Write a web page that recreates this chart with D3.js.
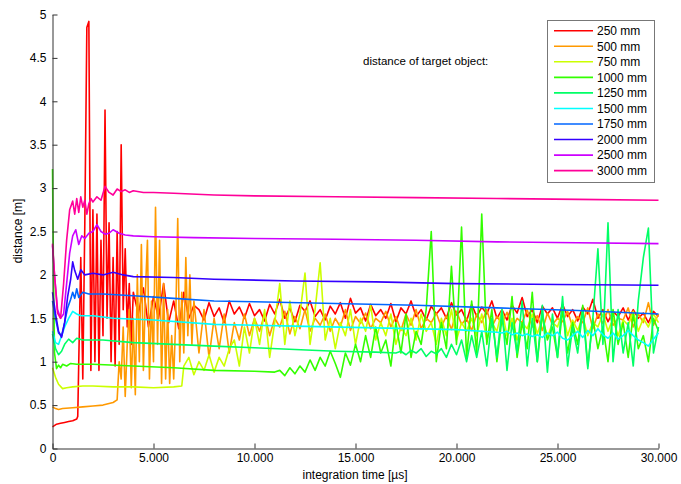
<!DOCTYPE html>
<html>
<head>
<meta charset="utf-8">
<script src="https://d3js.org/d3.v7.min.js"></script>
<style>
  body { margin: 0; background: #fff; }
  svg text { font-family: "Liberation Sans", Arial, Helvetica, sans-serif; fill: #000; }
</style>
</head>
<body>
<svg id="chart" width="681" height="484"></svg>
<script>
// ---- data (distance in m, time in µs) ----
const labels = ["250 mm", "500 mm", "750 mm", "1000 mm", "1250 mm", "1500 mm", "1750 mm", "2000 mm", "2500 mm", "3000 mm"];
const colors = ["#ff0000", "#ff9900", "#ccff00", "#33ff00", "#00ff66", "#00ffff", "#0066ff", "#3300ff", "#cc00ff", "#ff0099"];
const xTicks = [0, 5000, 10000, 15000, 20000, 25000, 30000];
const yTicks = [0, 0.5, 1, 1.5, 2, 2.5, 3, 3.5, 4, 4.5, 5];
const tailStep = 250;

// 250 mm
const t250 = [0, 200, 400, 600, 800, 1000, 1200, 1250,
  1300, 1400, 1500, 1600, 1700, 1800, 1900, 2000, 2100, 2200, 2300, 2400, 2500, 2600, 2700, 2800,
  2900, 3000, 3100, 3200, 3300, 3400, 3500, 3600, 3700, 3800, 3900, 4000];
const v250 = [0.25, 0.28, 0.29, 0.3, 0.31, 0.32, 0.34, 0.37,
  1.0, 2.2, 0.8, 2.6, 4.85, 4.92, 0.9, 2.75, 1.0, 2.7, 0.9, 2.4, 1.3, 3.9, 1.5, 2.6,
  1.0, 2.2, 0.95, 2.5, 1.2, 3.5, 1.6, 2.3, 1.4, 1.9, 1.2, 1.8];
const tail250Start = 4250;
const tail250 = [1.55, 1.85, 1.4, 1.75, 1.5, 1.9, 1.45, 1.7, 1.38, 1.8, 1.5, 1.65,
  1.6, 1.48, 1.68, 1.52, 1.62, 1.45, 1.7, 1.55, 1.63, 1.5, 1.67, 1.53,
  1.6, 1.47, 1.66, 1.55, 1.72, 1.5, 1.62, 1.46, 1.65, 1.58, 1.7, 1.52,
  1.6, 1.48, 1.64, 1.55, 1.68, 1.5, 1.73, 1.56, 1.62, 1.47, 1.66, 1.53,
  1.6, 1.5, 1.67, 1.46, 1.62, 1.55, 1.7, 1.52, 1.6, 1.48, 1.64, 1.55,
  1.62, 1.5, 1.68, 1.54, 1.6, 1.47, 1.66, 1.52, 1.63, 1.55, 1.7, 1.5,
  1.6, 1.48, 1.65, 1.56, 1.74, 1.52, 1.6, 1.45, 1.64, 1.55, 1.62, 1.5,
  1.66, 1.52, 1.6, 1.47, 1.63, 1.55, 1.72, 1.5, 1.6, 1.46, 1.58, 1.52,
  1.62, 1.48, 1.6, 1.5, 1.56, 1.45, 1.58, 1.52];

// 500 mm
const t500 = [0, 150, 300, 500, 1000, 1500, 2000, 2500, 3000, 3200,
  3300, 3400, 3500, 3600, 3700, 3800, 3900, 4000, 4100, 4200, 4300, 4400, 4500, 4600, 4700,
  4800, 4900, 5000, 5100, 5200, 5300, 5400, 5500, 5600, 5700, 5800, 5900, 6000, 6100, 6200,
  6300, 6400, 6500, 6600, 6700, 6800, 6900, 7000];
const v500 = [0.48, 0.46, 0.45, 0.46, 0.47, 0.48, 0.49, 0.5, 0.53, 0.56,
  1.0, 0.8, 1.4, 0.6, 1.2, 1.6, 0.7, 1.5, 0.62, 2.0, 1.0, 2.35, 0.9, 1.8, 2.4,
  0.8, 1.7, 1.0, 2.78, 1.2, 2.4, 0.75, 1.9, 0.8, 1.6, 0.75, 1.3, 0.8, 1.5, 2.65,
  1.0, 1.8, 1.1, 2.2, 1.3, 2.0, 1.2, 1.7];
const tail500Start = 7250;
const tail500 = [1.1, 1.6, 1.05, 1.5, 1.15, 1.55, 1.1, 1.45, 1.25, 1.55, 1.3, 1.5,
  1.35, 1.55, 1.3, 1.5, 1.4, 1.58, 1.32, 1.52, 1.38, 1.6, 1.35, 1.5,
  1.42, 1.55, 1.35, 1.5, 1.4, 1.6, 1.36, 1.52, 1.44, 1.56, 1.38, 1.5,
  1.45, 1.58, 1.4, 1.52, 1.36, 1.55, 1.42, 1.6, 1.38, 1.5, 1.45, 1.56,
  1.4, 1.53, 1.37, 1.58, 1.43, 1.5, 1.36, 1.55, 1.45, 1.6, 1.4, 1.52,
  1.44, 1.57, 1.38, 1.5, 1.45, 1.6, 1.4, 1.53, 1.36, 1.56, 1.43, 1.5,
  1.46, 1.58, 1.4, 1.52, 1.45, 1.62, 1.38, 1.55, 1.44, 1.6, 1.42, 1.5,
  1.48, 1.62, 1.4, 1.55, 1.45, 1.68, 1.42, 1.55];

// 750 mm
const t750 = [0, 150, 300, 500, 700, 1000, 1500, 2000, 3000, 4000, 5000, 6000, 6400];
const v750 = [0.93, 0.82, 0.74, 0.69, 0.7, 0.71, 0.72, 0.72, 0.71, 0.71, 0.7, 0.71, 0.72];
const tail750Start = 6500;
const tail750 = [0.95, 1.05, 0.85, 1.0, 0.9, 1.08, 0.88, 1.05, 0.95, 1.15,
  1.25, 0.95, 1.4, 1.1, 1.5, 1.2, 1.6, 1.05, 1.45, 1.9, 1.2, 1.7,
  1.3, 1.55, 2.02, 1.2, 1.6, 2.14, 1.25, 1.5, 1.15, 1.45, 1.3, 1.6,
  1.2, 1.5, 1.35, 1.65, 1.25, 1.45, 1.3, 1.55, 1.2, 1.4, 1.3, 1.5,
  1.25, 1.55, 1.35, 1.45, 1.2, 1.5, 1.3, 1.6, 1.25, 1.45, 1.35, 1.5,
  1.3, 1.55, 1.25, 1.45, 1.35, 1.6, 1.3, 1.5, 1.25, 1.45, 1.38, 1.55,
  1.32, 1.5, 1.28, 1.45, 1.4, 1.58, 1.3, 1.48, 1.36, 1.52, 1.3, 1.45,
  1.4, 1.55, 1.35, 1.5, 1.3, 1.48, 1.42, 1.58, 1.35, 1.5, 1.4, 1.55,
  1.45];

// 1000 mm
const t1000 = [0, 50, 100, 200, 300, 400, 500, 700, 900, 1200, 2000, 4000, 6000, 8000, 10000, 11000];
const v1000 = [3.22, 2.0, 1.1, 0.92, 0.96, 0.93, 0.97, 0.95, 0.98, 0.97, 0.97, 0.95, 0.93, 0.9, 0.89, 0.88];
const tail1000Start = 11250;
const tail1000 = [0.9, 0.84, 0.93, 0.86, 0.95, 0.88, 1.02, 0.9,
  1.05, 0.95, 1.12, 0.98, 0.82, 1.1, 0.96, 1.2,
  1.0, 1.3, 1.05, 1.4, 1.1, 1.25, 0.95, 1.45,
  1.1, 1.55, 1.05, 1.35, 1.2, 1.6, 2.5, 1.0,
  1.45, 1.15, 2.1, 1.2, 2.55, 1.05, 1.7, 1.1,
  2.7, 1.2, 1.6, 1.0, 1.5, 1.2, 1.75, 1.05,
  1.45, 1.15, 1.8, 1.0, 1.55, 1.25, 1.4, 1.05,
  1.6, 1.1, 1.45, 1.2, 1.65, 0.95, 1.5, 1.15,
  1.4, 1.0, 1.6, 1.2, 1.45, 1.05, 1.55, 1.15,
  1.3, 1.0, 1.5, 1.35];

// 1250 mm
const t1250 = [0, 150, 300, 450, 600, 800, 1000, 1200, 1500, 2500, 4000, 6000, 8000, 10000, 12000, 14000, 16000, 17000];
const v1250 = [1.32, 1.15, 1.08, 1.12, 1.2, 1.26, 1.22, 1.27, 1.25, 1.25, 1.22, 1.2, 1.18, 1.16, 1.14, 1.12, 1.11, 1.1];
const tail1250Start = 17250;
const tail1250 = [1.12, 1.08, 1.13, 1.1, 1.15, 1.06, 1.12, 1.09,
  1.15, 1.05, 1.2, 1.08, 1.25, 1.0, 1.3, 1.05,
  1.35, 0.95, 1.5, 1.05, 1.6, 0.9, 1.45, 1.1,
  1.7, 0.95, 1.5, 1.0, 1.65, 0.88, 1.55, 1.05,
  1.75, 0.95, 1.4, 1.1, 1.6, 0.92, 1.5, 2.3,
  1.2, 2.6, 1.0, 1.6, 1.1, 1.45, 0.95, 1.7,
  2.2, 2.54, 1.1, 1.4];

// 1500 mm
const t1500 = [0, 150, 300, 450, 600, 800, 1000, 1200, 1400, 2000, 3000, 5000, 8000, 12000, 16000, 20000, 22000];
const v1500 = [1.35, 1.22, 1.2, 1.3, 1.4, 1.5, 1.58, 1.55, 1.53, 1.53, 1.5, 1.48, 1.43, 1.41, 1.39, 1.37, 1.34];
const tail1500Start = 22250;
const tail1500 = [1.33, 1.35, 1.31, 1.33, 1.3, 1.32, 1.29, 1.31, 1.28, 1.33, 1.3, 1.34, 1.27, 1.25, 1.3, 1.35,
  1.28, 1.36, 1.3, 1.38, 1.31, 1.27, 1.33, 1.26, 1.3, 1.36, 1.3, 1.25, 1.22, 1.18, 1.26, 1.33];

// 1750 mm
const t1750 = [0, 150, 300, 450, 600, 750, 900, 1000, 1100, 1200, 1300, 1500, 1800, 2500, 4000, 6000, 8000, 10000, 14000, 18000, 22000, 26000, 28000, 30000];
const v1750 = [1.7, 1.5, 1.33, 1.3, 1.45, 1.62, 1.72, 1.8, 1.73, 1.84, 1.74, 1.8, 1.78, 1.78, 1.76, 1.73, 1.7, 1.69, 1.67, 1.65, 1.62, 1.59, 1.57, 1.55];

// 2000 mm
const t2000 = [0, 150, 300, 450, 600, 750, 900, 1000, 1100, 1250, 1400, 1600, 2000, 2500, 3000, 3500, 4000, 6000, 8000, 12000, 16000, 20000, 25000, 30000];
const v2000 = [1.8, 1.55, 1.35, 1.28, 1.45, 1.75, 1.95, 2.15, 2.05, 1.95, 2.06, 2.0, 2.02, 2.0, 2.03, 2.0, 1.98, 1.97, 1.95, 1.93, 1.92, 1.9, 1.89, 1.88];

// 2500 mm
const t2500 = [0, 100, 250, 400, 550, 700, 850, 1000, 1150, 1300, 1450, 1600, 1800, 2000, 2200, 2400, 2600, 2800, 3000, 3300, 3600, 4000, 5000, 7000, 10000, 14000, 18000, 22000, 26000, 30000];
const v2500 = [2.34, 2.0, 1.6, 1.5, 1.55, 1.9, 2.25, 2.45, 2.52, 2.35, 2.45, 2.42, 2.48, 2.5, 2.58, 2.5, 2.47, 2.48, 2.52, 2.48, 2.46, 2.45, 2.44, 2.43, 2.42, 2.41, 2.4, 2.38, 2.37, 2.36];

// 3000 mm
const t3000 = [0, 100, 250, 400, 550, 700, 850, 1000, 1100, 1200, 1300, 1400, 1500, 1600, 1700, 1800, 1900, 2000,
  2200, 2400, 2600, 2800, 3000, 3200, 3400, 3600, 3800, 4000, 4500, 5000, 6000, 8000, 10000, 14000, 18000, 22000, 26000, 30000];
const v3000 = [2.36, 2.0, 1.56, 1.5, 1.9, 2.4, 2.75, 2.85, 2.7, 2.88, 2.72, 2.9, 2.78, 2.86, 2.7, 2.82, 2.88, 2.84,
  2.9, 2.86, 3.02, 2.95, 2.92, 2.99, 2.96, 2.98, 2.95, 2.97, 2.95, 2.95, 2.94, 2.92, 2.91, 2.9, 2.89, 2.88, 2.87, 2.86];

// joins the hand-read early samples with the evenly sampled tail
function build(ts, vs, tailStart, tail) {
  const pts = ts.map((t, i) => [t, vs[i]]);
  if (tail) tail.forEach((v, i) => pts.push([tailStart + i * tailStep, v]));
  return pts;
}

const series = [
  build(t250, v250, tail250Start, tail250),
  build(t500, v500, tail500Start, tail500),
  build(t750, v750, tail750Start, tail750),
  build(t1000, v1000, tail1000Start, tail1000),
  build(t1250, v1250, tail1250Start, tail1250),
  build(t1500, v1500, tail1500Start, tail1500),
  build(t1750, v1750),
  build(t2000, v2000),
  build(t2500, v2500),
  build(t3000, v3000)
];

// ---- drawing ----
const svg = d3.select('#chart');
const x = d3.scaleLinear().domain([0, 30000]).range([52.5, 658.5]);
const y = d3.scaleLinear().domain([0, 5]).range([448.5, 14.5]);

const de = d3.formatLocale({decimal: ",", thousands: ".", grouping: [3], currency: ["", ""]});
const fmtX = de.format(",");

const line = d3.line().x(d => x(d[0])).y(d => y(d[1]));

svg.append('g')
  .selectAll('path')
  .data(series)
  .enter()
  .append('path')
  .attr('d', line)
  .attr('fill', 'none')
  .attr('stroke', (d, i) => colors[i])
  .attr('stroke-width', 1.6)
  .attr('stroke-linejoin', 'round');

// axes, ticks pointing inward like the original
const xAxis = svg.append('g')
  .attr('transform', `translate(0,${y(0)})`)
  .call(d3.axisBottom(x).tickValues(xTicks).tickFormat(fmtX).tickSizeInner(-5).tickSizeOuter(0).tickPadding(5));
const yAxis = svg.append('g')
  .attr('transform', `translate(${x(0)},0)`)
  .call(d3.axisLeft(y).tickValues(yTicks).tickFormat(d3.format('')).tickSizeInner(-5).tickSizeOuter(0).tickPadding(6));

[xAxis, yAxis].forEach(a => {
  a.select('.domain').attr('stroke', '#333');
  a.selectAll('.tick line').attr('stroke', '#333');
  a.selectAll('.tick text').attr('font-size', 12).attr('font-family', '"Liberation Sans", Arial, sans-serif').attr('fill', '#000');
});

svg.append('text')
  .attr('x', 355)
  .attr('y', 479)
  .attr('text-anchor', 'middle')
  .attr('font-size', 12)
  .text('integration time [µs]');

svg.append('text')
  .attr('transform', 'translate(22,231) rotate(-90)')
  .attr('text-anchor', 'middle')
  .attr('font-size', 12)
  .text('distance [m]');

svg.append('text')
  .attr('x', 363)
  .attr('y', 65)
  .attr('font-size', 11.5)
  .text('distance of target object:');

// legend
const legend = svg.append('g');
legend.append('rect')
  .attr('x', 547.5).attr('y', 20.5)
  .attr('width', 107).attr('height', 162)
  .attr('fill', '#fff')
  .attr('stroke', '#777');
const rows = legend.selectAll('g.row')
  .data(labels)
  .enter()
  .append('g')
  .attr('class', 'row')
  .attr('transform', (d, i) => `translate(0,${30.7 + i * 15.55})`);
rows.append('line')
  .attr('x1', 554).attr('x2', 593)
  .attr('stroke', (d, i) => colors[i])
  .attr('stroke-width', 1.6);
rows.append('text')
  .attr('x', 597)
  .attr('y', 4.3)
  .attr('font-size', 12)
  .text(d => d);
</script>
</body>
</html>
